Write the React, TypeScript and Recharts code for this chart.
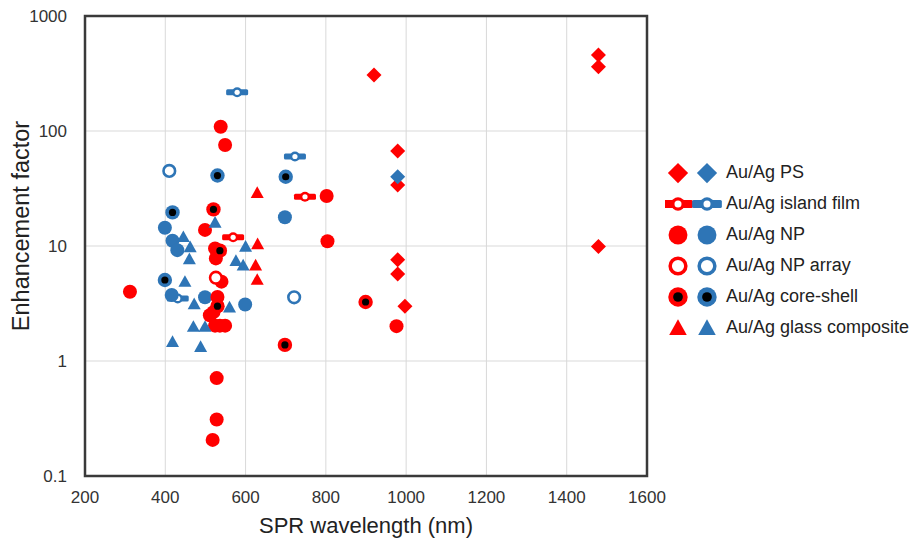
import React from 'react';
import { ScatterChart, Scatter, XAxis, YAxis, CartesianGrid, ReferenceArea } from 'recharts';

const RED = '#ff0000';
const BLUE = '#2e75b6';

// [SPR wavelength (nm), enhancement factor]
const auPS = [[920, 307], [979, 67], [979, 34], [979, 7.6], [979, 5.7], [997, 3.0], [1479, 458], [1479, 362], [1479, 9.9]];
const agPS = [[979, 40]];
const auFilm = [[569, 11.9], [748, 26.8]];
const agFilm = [[579, 217], [723, 60], [431, 3.5]];
const auNP = [
  [538, 109], [549, 75.5], [802, 27.2], [499, 13.8], [804, 11], [524, 9.5], [526, 7.8], [540, 4.9],
  [312, 4.0], [530, 3.6], [511, 2.5], [520, 2.66], [524, 2.03], [536, 2.03], [549, 2.03], [976, 2.01],
  [528, 0.71], [528, 0.31], [518, 0.206],
];
const agNP = [[698, 17.8], [399, 14.4], [418, 11.1], [430, 9.2], [416, 3.75], [499, 3.58], [599, 3.1]];
const auArray = [[526, 5.3]];
const agArray = [[410, 45], [721, 3.58]];
const auCore = [[520, 20.8], [536, 9.1], [530, 3.0], [899, 3.26], [698, 1.38]];
const agCore = [[530, 41], [700, 40], [418, 19.6], [399, 5.06]];
const auGlass = [[629, 29], [630, 10.4], [625, 6.8], [629, 5.1]];
const agGlass = [
  [524, 16], [445, 12], [462, 9.8], [460, 7.7], [600, 9.9], [576, 7.45], [594, 6.8], [449, 4.9],
  [472, 3.13], [560, 2.93], [470, 1.99], [499, 1.99], [418, 1.47], [488, 1.33],
];

const xTicks = [200, 400, 600, 800, 1000, 1200, 1400, 1600];
const yTicks = [0.1, 1, 10, 100, 1000];

const legendLabels = ['Au/Ag PS', 'Au/Ag island film', 'Au/Ag NP', 'Au/Ag NP array', 'Au/Ag core-shell', 'Au/Ag glass composite'];

const FONT = '"Liberation Sans", Arial, sans-serif';

const toPts = (arr: number[][]) => arr.map(([x, y]) => ({ x, y }));

type Kind = 'ps' | 'film' | 'np' | 'array' | 'core' | 'glass';

const Marker = ({ kind, cx, cy, color, s = 1 }: { kind: Kind; cx: number; cy: number; color: string; s?: number }) => {
  switch (kind) {
    case 'ps': {
      const r = 7.5 * s;
      return <polygon points={`${cx},${cy - r} ${cx + r},${cy} ${cx},${cy + r} ${cx - r},${cy}`} fill={color} />;
    }
    case 'film':
      return (
        <g>
          <rect x={cx - 11 * s} y={cy - 3 * s} width={22 * s} height={6 * s} rx={1.5} fill={color} />
          <circle cx={cx} cy={cy} r={5 * s} fill={color} />
          <circle cx={cx} cy={cy} r={2.6 * s} fill="#fff" />
        </g>
      );
    case 'np':
      return <circle cx={cx} cy={cy} r={7 * s} fill={color} />;
    case 'array':
      return <circle cx={cx} cy={cy} r={5.8 * s} fill="#fff" stroke={color} strokeWidth={2.6 * s} />;
    case 'core':
      return (
        <g>
          <circle cx={cx} cy={cy} r={7.2 * s} fill={color} />
          <circle cx={cx} cy={cy} r={3.6 * s} fill="#000" />
        </g>
      );
    case 'glass': {
      const h = 6.5 * s;
      return <polygon points={`${cx},${cy - h} ${cx + 6.5 * s},${cy + h * 0.8} ${cx - 6.5 * s},${cy + h * 0.8}`} fill={color} />;
    }
  }
  return null;
};

const series: { kind: Kind; color: string; data: number[][] }[] = [
  { kind: 'ps', color: RED, data: auPS },
  { kind: 'ps', color: BLUE, data: agPS },
  { kind: 'film', color: RED, data: auFilm },
  { kind: 'film', color: BLUE, data: agFilm },
  { kind: 'np', color: BLUE, data: agNP },
  { kind: 'np', color: RED, data: auNP },
  { kind: 'array', color: BLUE, data: agArray },
  { kind: 'array', color: RED, data: auArray },
  { kind: 'glass', color: BLUE, data: agGlass },
  { kind: 'glass', color: RED, data: auGlass },
  { kind: 'core', color: BLUE, data: agCore },
  { kind: 'core', color: RED, data: auCore },
];

const legendKinds: Kind[] = ['ps', 'film', 'np', 'array', 'core', 'glass'];

const LegendBox = () => (
  <div style={{ position: 'absolute', left: 665, top: 157, fontFamily: FONT, fontSize: 18, color: '#222' }}>
    {legendKinds.map((k, i) => (
      <div key={k} style={{ display: 'flex', alignItems: 'center', height: 31 }}>
        <svg width={58} height={28}>
          <Marker kind={k} cx={13} cy={14} color={RED} s={1.35} />
          <Marker kind={k} cx={42} cy={14} color={BLUE} s={1.35} />
        </svg>
        <span style={{ marginLeft: 3, whiteSpace: 'nowrap' }}>{legendLabels[i]}</span>
      </div>
    ))}
  </div>
);

const YTitle = () => (
  <text x={21} y={226} transform="rotate(-90 21 226)" textAnchor="middle" dominantBaseline="central" fontSize={23.5} fill="#222" fontFamily={FONT}>
    Enhancement factor
  </text>
);

const App = () => (
  <div style={{ position: 'relative', width: 909, height: 539, background: '#fff' }}>
    <style>{'body{margin:0}'}</style>
    <ScatterChart width={909} height={539} margin={{ top: 16, right: 262, left: 0, bottom: 0 }}>
      <CartesianGrid stroke="#d9d9d9" />
      <XAxis
        dataKey="x"
        type="number"
        domain={[200, 1600]}
        ticks={xTicks}
        height={63}
        axisLine={false}
        tickLine={false}
        tickSize={0}
        tickMargin={15}
        tick={{ fontSize: 17, fill: '#333', fontFamily: FONT }}
        label={{ value: 'SPR wavelength (nm)', position: 'insideBottom', offset: 6, style: { fontSize: 22, fill: '#222', fontFamily: FONT } }}
      />
      <YAxis
        dataKey="y"
        type="number"
        scale="log"
        domain={[0.1, 1000]}
        allowDataOverflow
        ticks={yTicks}
        width={85}
        axisLine={false}
        tickLine={false}
        tickSize={0}
        tickMargin={18}
        tickFormatter={(v: number) => String(v)}
        tick={{ fontSize: 17, fill: '#333', fontFamily: FONT }}
        label={{ content: () => <YTitle /> }}
      />
      <ReferenceArea x1={200} x2={1600} y1={0.1} y2={1000} fill="none" stroke="#3a3a3a" strokeWidth={2.5} />
      {series.map((s, i) => (
        <Scatter
          key={i}
          data={toPts(s.data)}
          isAnimationActive={false}
          shape={(p: any) => <Marker kind={s.kind} cx={p.cx} cy={p.cy} color={s.color} />}
        />
      ))}
    </ScatterChart>
    <LegendBox />
  </div>
);

export default App;
